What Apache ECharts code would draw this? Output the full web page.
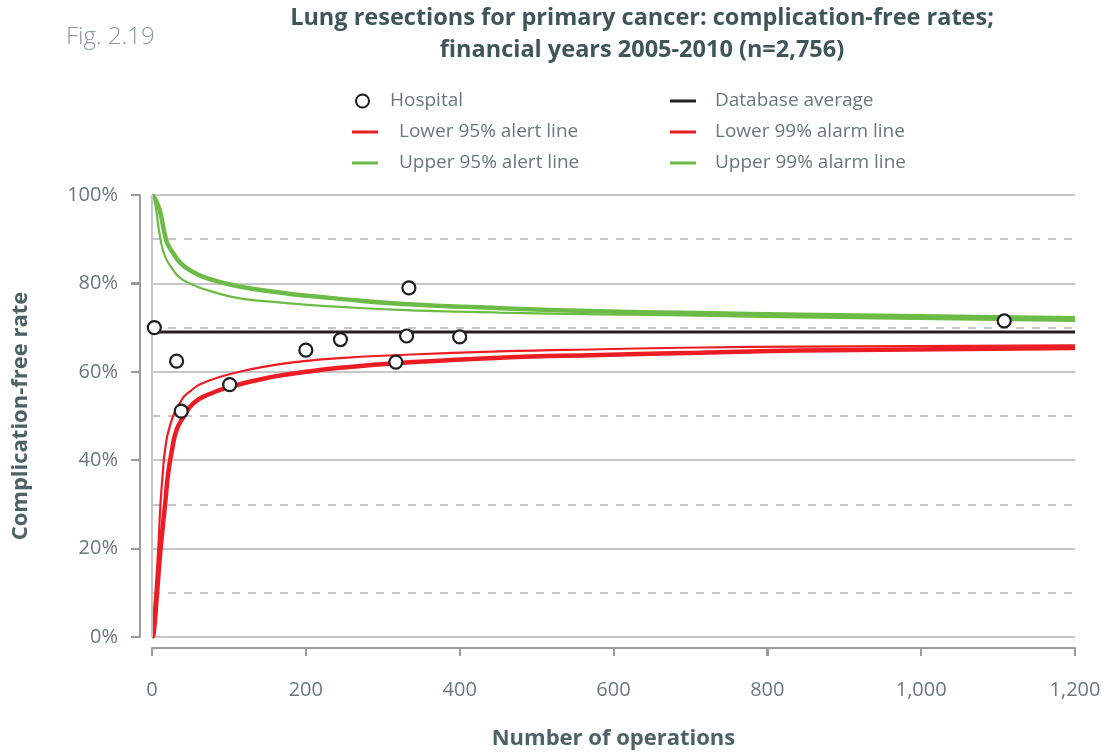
<!DOCTYPE html>
<html>
<head>
<meta charset="utf-8">
<script src="https://cdn.jsdelivr.net/npm/echarts@6/dist/echarts.min.js"></script>
<style>
  html, body { margin: 0; padding: 0; background: #ffffff; }
  #chart { width: 1112px; height: 756px; }
</style>
</head>
<body>
<div id="chart"></div>
<script>
// Hospital results: number of operations and complication-free rate (%)
const hospitalOps  = [3, 32, 38, 101, 200, 245, 317, 331, 334, 400, 1108];
const hospitalRate = [70.0, 62.4, 51.1, 57.1, 64.9, 67.3, 62.2, 68.1, 79.0, 67.9, 71.5];

// Database average complication-free rate (%)
const databaseAverage = 69.0;
const averageOps = [0, 1200];

// Control limits (operations, rate %)
const lower95Ops  = [0, 4, 8, 11, 14, 17, 23, 36, 49, 71, 114, 158, 192, 244, 322, 452, 582, 712, 842, 1200];
const lower95Rate = [0, 9, 19.6, 30, 37, 42.3, 47.6, 52.9, 55.5, 57.8, 60.0, 61.5, 62.3, 63.1, 63.8, 64.6, 65.1, 65.5, 65.7, 66.0];

const lower99Ops  = [0, 2, 6, 11, 17, 21, 26, 32, 41, 54, 71, 101, 158, 200, 244, 322, 452, 582, 712, 842, 1200];
const lower99Rate = [0, 0.5, 8.7, 19.6, 30, 37, 42.3, 46.9, 49.8, 52.9, 54.7, 56.6, 58.9, 60.0, 60.9, 62.0, 63.2, 63.8, 64.3, 64.8, 65.4];

const upper95Ops  = [0, 2, 4, 6, 10.4, 17, 27.7, 36, 49, 71, 114, 158, 192, 244, 322, 452, 582, 712, 842, 1200];
const upper95Rate = [100, 99.6, 98.2, 96.0, 90.6, 86.1, 83.0, 81.3, 80.0, 78.5, 76.6, 75.8, 75.3, 74.7, 74.0, 73.4, 73.0, 72.7, 72.3, 71.5];

const upper99Ops  = [0, 2, 5, 8, 10, 13, 15, 17, 20, 27.7, 36, 49, 71, 114, 158, 192, 244, 322, 452, 582, 712, 842, 1200];
const upper99Rate = [100, 99.6, 98.8, 97.6, 96.6, 94.3, 92.4, 90.8, 89.0, 86.8, 84.8, 83.0, 81.2, 79.3, 78.1, 77.4, 76.5, 75.4, 74.4, 73.7, 73.3, 72.9, 72.1];

// Axis ticks
const xTicks = { min: 0, max: 1200, interval: 200 };
const yTicks = { min: 0, max: 100, interval: 20 };

const pairs = (xs, ys) => xs.map((x, i) => [x, ys[i]]);

const RED = '#ed1c24';
const GREEN = '#6cbb47';
const LABEL = '#6b7878';
const HEADING = '#3f5659';
const AXIS = '#9b9b9b';
const GRIDLINE = '#c6c6c6';
const FONT = '"Open Sans", "Noto Sans", sans-serif';
const X_OFFSET = 11, Y_OFFSET = 12, X_TICK = 8, Y_TICK = 9;

const chart = echarts.init(document.getElementById('chart'), null, { renderer: 'canvas' });

const lineSeries = (name, data, color, width, z) => ({
  name, type: 'line', data, color,
  showSymbol: false, symbol: 'none',
  smooth: 0.5,
  lineStyle: { color, width },
  z, silent: true
});

const legendText = pad => ({ color: LABEL, fontSize: 19, fontFamily: FONT, lineHeight: 22, padding: [0, 0, 0, pad] });

const headings = [
  { type: 'text', x: 66, y: 37,
    style: { text: 'Fig. 2.19', font: '300 24px ' + FONT, fill: '#8d9898', textVerticalAlign: 'middle' } },
  { type: 'text', x: 642, y: 18,
    style: { text: 'Lung resections for primary cancer: complication-free rates;', font: 'bold 23.5px ' + FONT, fill: HEADING, textAlign: 'center', textVerticalAlign: 'middle' } },
  { type: 'text', x: 642, y: 50,
    style: { text: 'financial years 2005-2010 (n=2,756)', font: 'bold 23.5px ' + FONT, fill: HEADING, textAlign: 'center', textVerticalAlign: 'middle' } }
];

chart.setOption({
  animation: false,
  textStyle: { fontFamily: FONT },
  grid: { left: 152, right: 37, top: 195, bottom: 119 },
  graphic: headings,
  legend: [
    { left: 350, top: 85, orient: 'vertical', itemWidth: 13, itemHeight: 13,
      icon: 'circle', data: ['Hospital'],
      textStyle: legendText(16) },
    { left: 347, top: 116, orient: 'vertical', itemWidth: 26, itemHeight: 3, itemGap: 9,
      icon: 'rect', data: ['Lower 95% alert line', 'Upper 95% alert line'],
      textStyle: legendText(16) },
    { left: 665, top: 85, orient: 'vertical', itemWidth: 26, itemHeight: 3, itemGap: 9,
      icon: 'rect', data: ['Database average', 'Lower 99% alarm line', 'Upper 99% alarm line'],
      textStyle: legendText(14) }
  ],
  xAxis: {
    type: 'value', min: xTicks.min, max: xTicks.max, interval: xTicks.interval,
    offset: X_OFFSET,
    name: 'Number of operations', nameLocation: 'middle', nameGap: 80,
    nameTextStyle: { color: '#4d6264', fontSize: 22, fontWeight: 'bold', fontFamily: FONT },
    axisLine: { show: true, onZero: false, lineStyle: { color: AXIS, width: 2 } },
    axisTick: { show: true, length: X_TICK, lineStyle: { color: AXIS, width: 2 } },
    axisLabel: { color: LABEL, fontSize: 20, margin: 32, fontFamily: FONT,
      formatter: v => v.toLocaleString('en-US') },
    splitLine: { show: false }
  },
  yAxis: {
    type: 'value', min: yTicks.min, max: yTicks.max, interval: yTicks.interval,
    offset: Y_OFFSET,
    name: 'Complication-free rate', nameLocation: 'middle', nameGap: 108,
    nameTextStyle: { color: '#4d6264', fontSize: 22, fontWeight: 'bold', fontFamily: FONT },
    axisLine: { show: true, onZero: false, lineStyle: { color: AXIS, width: 2 } },
    axisTick: { show: true, length: Y_TICK, lineStyle: { color: AXIS, width: 2 } },
    axisLabel: { color: LABEL, fontSize: 20, margin: 22, fontFamily: FONT, formatter: '{value}%' },
    splitLine: { show: true, lineStyle: { color: GRIDLINE, width: 2 } },
    minorTick: { show: false, splitNumber: 2 },
    minorSplitLine: { show: true, lineStyle: { color: GRIDLINE, width: 2, type: [8, 8] } }
  },
  series: [
    Object.assign(lineSeries('Database average', averageOps.map(x => [x, databaseAverage]), '#231f20', 3, 2), {
      smooth: false,
      markLine: {
        silent: true, symbol: 'none', label: { show: false },
        lineStyle: { color: GRIDLINE, width: 2, type: 'solid' },
        data: [{ xAxis: 0 }]
      }
    }),
    lineSeries('Lower 95% alert line', pairs(lower95Ops, lower95Rate), RED, 2.2, 3),
    lineSeries('Upper 95% alert line', pairs(upper95Ops, upper95Rate), GREEN, 2.2, 3),
    lineSeries('Lower 99% alarm line', pairs(lower99Ops, lower99Rate), RED, 4.5, 3),
    lineSeries('Upper 99% alarm line', pairs(upper99Ops, upper99Rate), GREEN, 4.5, 3),
    {
      name: 'Hospital', type: 'scatter',
      data: pairs(hospitalOps, hospitalRate),
      symbol: 'circle', symbolSize: 13,
      itemStyle: { color: '#ffffff', borderColor: '#1e1e1e', borderWidth: 2.2, opacity: 1 },
      z: 5
    }
  ]
});

// Offset axis rules and outward ticks, placed through the grid's own scales
const toPx = (x, y) => chart.convertToPixel({ gridIndex: 0 }, [x, y]);
const rule = (x1, y1, x2, y2) => ({
  type: 'line', silent: true, z: 1,
  shape: { x1, y1, x2, y2 },
  style: { stroke: AXIS, lineWidth: 2 }
});
const [x0, y0] = toPx(xTicks.min, yTicks.min);
const [x1] = toPx(xTicks.max, yTicks.min);
const [, yTop] = toPx(xTicks.min, yTicks.max);
const axisX = Math.round(x0) - Y_OFFSET;
const axisY = Math.round(y0) + X_OFFSET;
const axisRules = [
  rule(axisX, Math.round(yTop), axisX, Math.round(y0)),
  rule(Math.round(x0), axisY, Math.round(x1), axisY)
];
for (let v = yTicks.min; v <= yTicks.max; v += yTicks.interval) {
  const py = Math.round(toPx(xTicks.min, v)[1]);
  axisRules.push(rule(axisX - Y_TICK, py, axisX, py));
}
for (let v = xTicks.min; v <= xTicks.max; v += xTicks.interval) {
  const px = Math.round(toPx(v, yTicks.min)[0]);
  axisRules.push(rule(px, axisY, px, axisY + X_TICK));
}
chart.setOption({ graphic: headings.concat(axisRules) });
</script>
</body>
</html>
